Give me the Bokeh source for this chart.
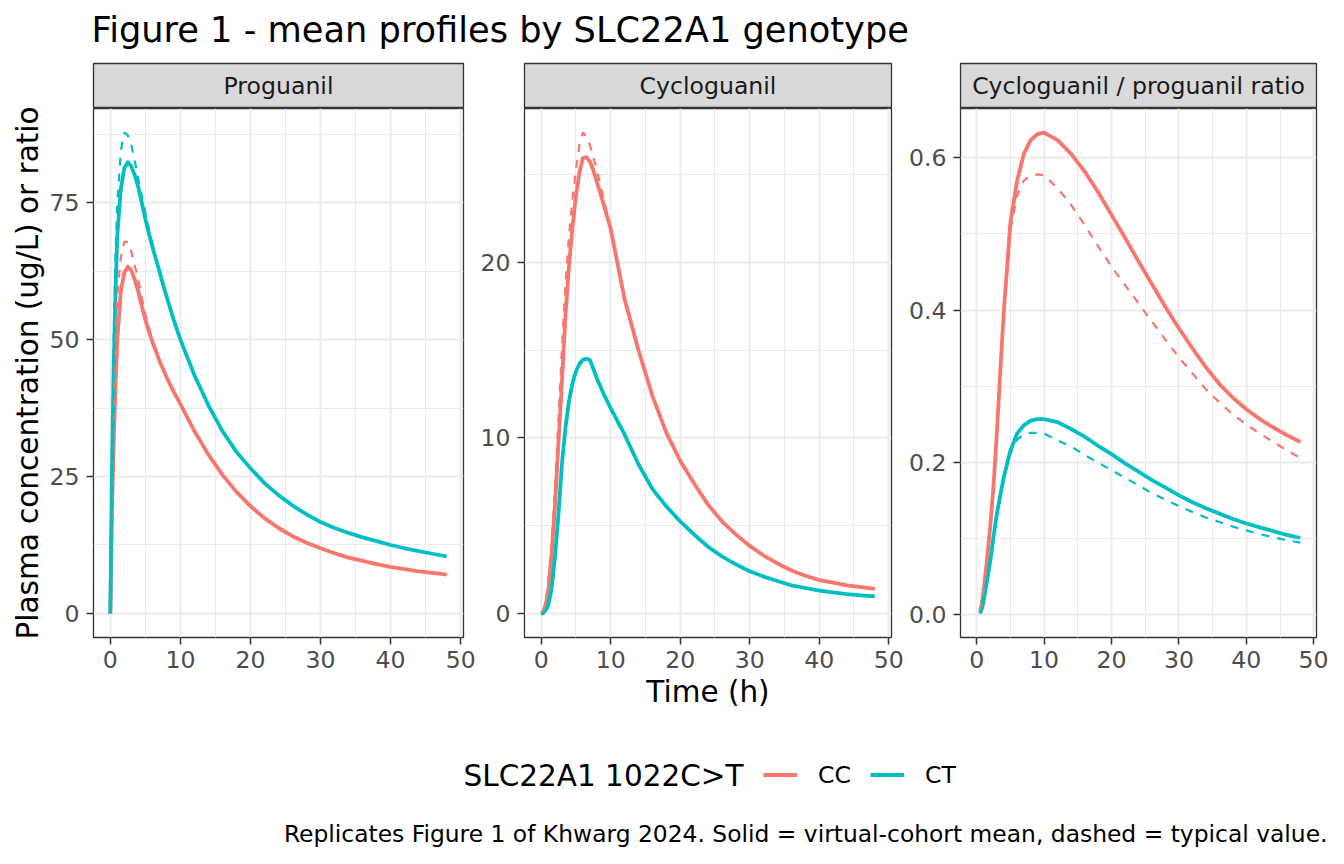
import math
from bokeh.plotting import figure
from bokeh.layouts import row, column
from bokeh.models import Range1d, FixedTicker, Legend, LegendItem, PrintfTickFormatter, BasicTickFormatter
from bokeh.core.properties import value
from bokeh.embed import file_html
from bokeh.resources import INLINE

# ---------------- data ----------------
TIME = [0, 0.25, 0.5, 0.75, 1, 1.5, 2, 2.5, 3, 3.5, 4, 4.5, 5, 5.5, 6, 6.5, 7, 7.5, 8, 9, 10,
        12, 14, 16, 18, 20, 22, 24, 26, 28, 30, 32, 34, 36, 38, 40, 42, 44, 46, 48]

PG_CC_MEAN = [0, 20, 32, 42, 50, 58.8, 62.2, 63.3, 62.6, 60.9, 58.7, 56.1, 53.6, 51.5, 49.6, 47.9,
              46.2, 44.7, 43.2, 40.6, 38.2, 33.3, 29.0, 25.3, 22.2, 19.6, 17.4, 15.6, 14.1, 12.9,
              11.9, 11.0, 10.2, 9.6, 9.0, 8.5, 8.1, 7.7, 7.4, 7.1]
PG_CT_MEAN = [0, 27, 46, 59, 69, 77.5, 81.3, 82.4, 81.6, 80.0, 77.8, 74.9, 72.0, 69.4, 67.0, 64.7,
              62.5, 60.2, 58.0, 53.8, 50.0, 43.5, 38.0, 33.3, 29.5, 26.5, 23.8, 21.6, 19.7, 18.1,
              16.7, 15.6, 14.7, 13.9, 13.2, 12.5, 11.9, 11.4, 10.9, 10.4]
PG_CC_TYP = [0, 24, 38, 50, 58, 65, 67.9, 67.8, 66.0, 63.5, 60.8, 57.6, 54.6, 52.2, 50.0, 48.1,
             46.3, 44.7, 43.2, 40.6, 38.2, 33.3, 29.0, 25.3, 22.2, 19.6, 17.4, 15.6, 14.1, 12.9,
             11.9, 11.0, 10.2, 9.6, 9.0, 8.5, 8.1, 7.7, 7.4, 7.1]
PG_CT_TYP = [0, 30, 52, 66, 75, 84.5, 87.8, 87.3, 85.5, 82.5, 79.3, 76.2, 73.2, 70.3, 67.6, 65.0,
             62.6, 60.2, 58.0, 53.8, 50.0, 43.5, 38.0, 33.3, 29.5, 26.5, 23.8, 21.6, 19.7, 18.1,
             16.7, 15.6, 14.7, 13.9, 13.2, 12.5, 11.9, 11.4, 10.9, 10.4]

CG_CC_MEAN = [0, 0.05, 0.3, 0.7, 1.2, 3.4, 6.2, 9.8, 13.3, 17.0, 19.8, 22.0, 23.8, 25.1, 25.95, 26.0,
              25.75, 25.25, 24.6, 23.3, 21.9, 17.9, 15.0, 12.4, 10.3, 8.7, 7.4, 6.2, 5.25, 4.5,
              3.85, 3.3, 2.85, 2.45, 2.15, 1.9, 1.75, 1.6, 1.5, 1.4]
CG_CT_MEAN = [0, 0.0, 0.1, 0.25, 0.45, 1.4, 3.3, 5.7, 8.6, 10.6, 12.1, 13.1, 13.8, 14.2, 14.45, 14.5,
              14.45, 13.95, 13.4, 12.5, 11.7, 10.2, 8.5, 7.1, 6.1, 5.25, 4.5, 3.8, 3.25, 2.8,
              2.4, 2.1, 1.85, 1.6, 1.45, 1.3, 1.2, 1.1, 1.03, 0.97]
CG_CC_TYP = [0, 0.1, 0.4, 1.0, 1.7, 4.0, 7.3, 11.2, 15.2, 18.8, 21.5, 23.6, 25.3, 26.7, 27.4, 27.2,
             26.7, 26.0, 25.3, 23.6, 21.9, 17.9, 15.0, 12.4, 10.3, 8.7, 7.4, 6.2, 5.25, 4.5,
             3.85, 3.3, 2.85, 2.45, 2.15, 1.9, 1.75, 1.6, 1.5, 1.4]
CG_CT_TYP = [0, 0.0, 0.1, 0.3, 0.5, 1.5, 3.4, 5.8, 8.7, 10.7, 12.2, 13.2, 13.9, 14.3, 14.5, 14.55,
             14.4, 13.9, 13.4, 12.5, 11.6, 10.1, 8.45, 7.05, 6.05, 5.2, 4.45, 3.8, 3.25, 2.8,
             2.4, 2.1, 1.85, 1.6, 1.45, 1.3, 1.2, 1.1, 1.03, 0.97]

RATIO_TIME = [0.5, 0.75, 1, 1.5, 2, 2.5, 3, 3.5, 4, 5, 6, 7, 8, 9, 10, 12, 14, 16, 18, 20,
              22, 24, 26, 28, 30, 32, 34, 36, 38, 40, 42, 44, 46, 48]
RATIO_CC_MEAN = [0.004, 0.015, 0.03, 0.07, 0.115, 0.17, 0.24, 0.32, 0.395, 0.515, 0.57, 0.605,
                 0.623, 0.631, 0.633, 0.623, 0.605, 0.582, 0.555, 0.525, 0.495, 0.464, 0.434,
                 0.404, 0.376, 0.35, 0.325, 0.303, 0.285, 0.27, 0.257, 0.246, 0.236, 0.227]
RATIO_CT_MEAN = [0.002, 0.008, 0.017, 0.043, 0.07, 0.103, 0.133, 0.157, 0.18, 0.216, 0.238, 0.249,
                 0.255, 0.257, 0.257, 0.253, 0.244, 0.234, 0.222, 0.211, 0.199, 0.188, 0.177,
                 0.167, 0.157, 0.148, 0.14, 0.133, 0.126, 0.12, 0.115, 0.11, 0.105, 0.101]
RATIO_CC_TYP = [0.004, 0.015, 0.03, 0.07, 0.115, 0.17, 0.24, 0.32, 0.39, 0.505, 0.55, 0.57,
                0.577, 0.578, 0.577, 0.56, 0.538, 0.512, 0.484, 0.457, 0.433, 0.409, 0.385,
                0.361, 0.338, 0.317, 0.296, 0.279, 0.263, 0.25, 0.238, 0.227, 0.216, 0.206]
RATIO_CT_TYP = [0.002, 0.008, 0.017, 0.043, 0.07, 0.103, 0.133, 0.157, 0.178, 0.212, 0.23, 0.237,
                0.239, 0.239, 0.238, 0.229, 0.221, 0.21, 0.2, 0.19, 0.18, 0.17, 0.16,
                0.151, 0.143, 0.135, 0.128, 0.122, 0.116, 0.111, 0.106, 0.102, 0.098, 0.095]

X_TICKS = [0, 10, 20, 30, 40, 50]
X_MINOR = [5, 15, 25, 35, 45]
PG_YTICKS = [0, 25, 50, 75]
PG_YMINOR = [12.5, 37.5, 62.5, 87.5]
CG_YTICKS = [0, 10, 20]
CG_YMINOR = [5, 15, 25]
RATIO_YTICKS = [0.0, 0.2, 0.4, 0.6]
RATIO_YMINOR = [0.1, 0.3, 0.5]

PANEL_TITLES = ["Proguanil", "Cycloguanil", "Cycloguanil / proguanil ratio"]
GENOTYPES = ["CC", "CT"]
TITLE = "Figure 1 - mean profiles by SLC22A1 genotype"
Y_TITLE = "Plasma concentration (ug/L) or ratio"
X_TITLE = "Time (h)"
LEGEND_TITLE = "SLC22A1 1022C>T"
CAPTION = "Replicates Figure 1 of Khwarg 2024. Solid = virtual-cohort mean, dashed = typical value."

# ---------------- style ----------------
FONT = "DejaVu Sans"
BIG = "29.5px"
SMALL = "23.6px"
CAPTION_SIZE = "23.4px"
TITLE_SIZE = "35.2px"
COLORS = {"CC": "#F8766D", "CT": "#00BFC4"}
TOTAL_W = 1328
TITLE_H = 62
STRIP_H = 46
FRAME_H = 529
BOTTOM_B = 40
MID_BOTTOM_B = 74
FOOT_H = 848 - TITLE_H - STRIP_H - FRAME_H - MID_BOTTOM_B
YT_W = 45                      # width of the y-title column
SOLID_W = 3.8
DASH_W = 2.2

# width, left border, right border, bottom border of each column
COLS = [(477 - YT_W, 93 - YT_W, 14, BOTTOM_B), (428, 45, 14, MID_BOTTOM_B), (423, 53, 12, BOTTOM_B)]

xs_all = TIME + RATIO_TIME
x_lo, x_hi = min(xs_all), max(xs_all)
x_pad = (x_hi - x_lo) * 0.05


def blank(width, height, xr, yr, **kw):
    f = figure(width=width, height=height, x_range=xr, y_range=yr,
               output_backend="svg", toolbar_location=None,
               x_axis_type=None, y_axis_type=None, **kw)
    f.outline_line_color = None
    f.background_fill_color = "white"
    f.border_fill_color = "white"
    return f


def make_strip(width, left, right, bottom, label):
    fw = width - left - right
    s = blank(width, STRIP_H, Range1d(0, fw), Range1d(STRIP_H - 1, 0),
              min_border_left=left, min_border_right=right, min_border_top=1, min_border_bottom=0)
    s.background_fill_color = "#D9D9D9"
    s.outline_line_color = "#333333"
    s.outline_line_width = 1.3
    s.text(x=[fw / 2], y=[22], text=[label], text_align="center", text_baseline="middle",
           text_font=value(FONT), text_font_size=SMALL, text_color="#1A1A1A")
    return s


def make_panel(width, left, right, bottom, t, cc_mean, ct_mean, cc_typ, ct_typ, yticks, yminor, fmt,
               xlabel=None):
    vals = cc_mean + ct_mean + cc_typ + ct_typ
    lo, hi = min(vals), max(vals)
    pad = (hi - lo) * 0.05
    p = figure(width=width, height=FRAME_H + bottom,
               x_range=Range1d(x_lo - x_pad, x_hi + x_pad), y_range=Range1d(lo - pad, hi + pad),
               output_backend="svg", toolbar_location=None,
               min_border_left=left, min_border_right=right, min_border_top=0,
               min_border_bottom=bottom)
    p.background_fill_color = "white"
    p.border_fill_color = "white"
    p.outline_line_color = "#333333"
    p.outline_line_width = 1.3
    xt = FixedTicker(ticks=X_TICKS, minor_ticks=X_MINOR)
    yt = FixedTicker(ticks=yticks, minor_ticks=yminor)
    p.xaxis.ticker = xt
    p.yaxis.ticker = yt
    p.xgrid.ticker = xt
    p.ygrid.ticker = yt
    p.yaxis.formatter = fmt
    for ax in p.axis:
        ax.axis_line_color = None
        ax.major_tick_out = 7
        ax.major_tick_in = 0
        ax.minor_tick_out = 0
        ax.minor_tick_in = 0
        ax.major_tick_line_color = "#333333"
        ax.major_tick_line_width = 1.5
        ax.major_label_text_font = FONT
        ax.major_label_text_font_size = SMALL
        ax.major_label_text_color = "#4D4D4D"
        ax.axis_label_text_font = FONT
        ax.axis_label_text_font_size = BIG
        ax.axis_label_text_font_style = "normal"
        ax.axis_label_text_color = "#000000"
    p.xaxis.major_label_standoff = 6
    p.yaxis.major_label_standoff = 7
    for g in p.grid:
        g.grid_line_color = "#EBEBEB"
        g.grid_line_width = 2
        g.minor_grid_line_color = "#EBEBEB"
        g.minor_grid_line_width = 1
    if xlabel:
        p.xaxis.axis_label = xlabel
        p.xaxis.axis_label_standoff = 4
    p.line(t, cc_mean, line_color=COLORS["CC"], line_width=SOLID_W, line_join="round")
    p.line(t, ct_mean, line_color=COLORS["CT"], line_width=SOLID_W, line_join="round")
    p.line(t, cc_typ, line_color=COLORS["CC"], line_width=DASH_W, line_dash="8 8")
    p.line(t, ct_typ, line_color=COLORS["CT"], line_width=DASH_W, line_dash="8 8")
    return p


panels = [
    make_panel(*COLS[0], TIME, PG_CC_MEAN, PG_CT_MEAN, PG_CC_TYP, PG_CT_TYP,
               PG_YTICKS, PG_YMINOR, BasicTickFormatter()),
    make_panel(*COLS[1], TIME, CG_CC_MEAN, CG_CT_MEAN, CG_CC_TYP, CG_CT_TYP,
               CG_YTICKS, CG_YMINOR, BasicTickFormatter(), xlabel=X_TITLE),
    make_panel(*COLS[2], RATIO_TIME, RATIO_CC_MEAN, RATIO_CT_MEAN, RATIO_CC_TYP, RATIO_CT_TYP,
               RATIO_YTICKS, RATIO_YMINOR, PrintfTickFormatter(format="%.1f")),
]
strips = [make_strip(*COLS[i], PANEL_TITLES[i]) for i in range(3)]

# shared y-axis title column (spans strip + panel height)
yt_h = STRIP_H + FRAME_H + BOTTOM_B
ytitle = blank(YT_W, yt_h, Range1d(0, YT_W), Range1d(yt_h, 0), min_border=0)
ytitle.text(x=[27], y=[STRIP_H + FRAME_H / 2], text=[Y_TITLE], angle=math.pi / 2,
            text_align="center", text_baseline="middle",
            text_font=value(FONT), text_font_size=BIG, text_color="#000000")

# title
top = blank(TOTAL_W, TITLE_H, Range1d(0, TOTAL_W), Range1d(TITLE_H, 0), min_border=0)
top.text(x=[91], y=[29.2], text=[TITLE], text_align="left", text_baseline="middle",
         text_font=value(FONT), text_font_size=TITLE_SIZE, text_color="#000000")

# footer: legend and caption
foot = blank(TOTAL_W, FOOT_H, Range1d(0, TOTAL_W), Range1d(FOOT_H, 0), min_border=0)
foot.text(x=[463], y=[64.7], text=[LEGEND_TITLE], text_align="left", text_baseline="middle",
          text_font=value(FONT), text_font_size=BIG, text_color="#000000")
foot.text(x=[1327], y=[122.6], text=[CAPTION], text_align="right", text_baseline="middle",
          text_font=value(FONT), text_font_size=CAPTION_SIZE, text_color="#000000")
nan = float("nan")
proxies = [foot.line(x=[nan, nan], y=[nan, nan], line_color=COLORS[g], line_width=SOLID_W)
           for g in GENOTYPES]
legend = Legend(items=[LegendItem(label=g, renderers=[r]) for g, r in zip(GENOTYPES, proxies)],
                orientation="horizontal", location=(763, FOOT_H - 64 - 13.5), padding=0, margin=0,
                glyph_width=34, glyph_height=27, label_height=27, label_standoff=21, spacing=19,
                border_line_color=None, background_fill_alpha=0,
                label_text_font=FONT, label_text_font_size=SMALL, label_text_color="#000000")
foot.add_layout(legend)

layout = column(top,
                row(ytitle, *[column(strips[i], panels[i], spacing=0) for i in range(3)], spacing=0),
                foot, spacing=0)

open("out.html", "w").write(file_html(layout, INLINE))
